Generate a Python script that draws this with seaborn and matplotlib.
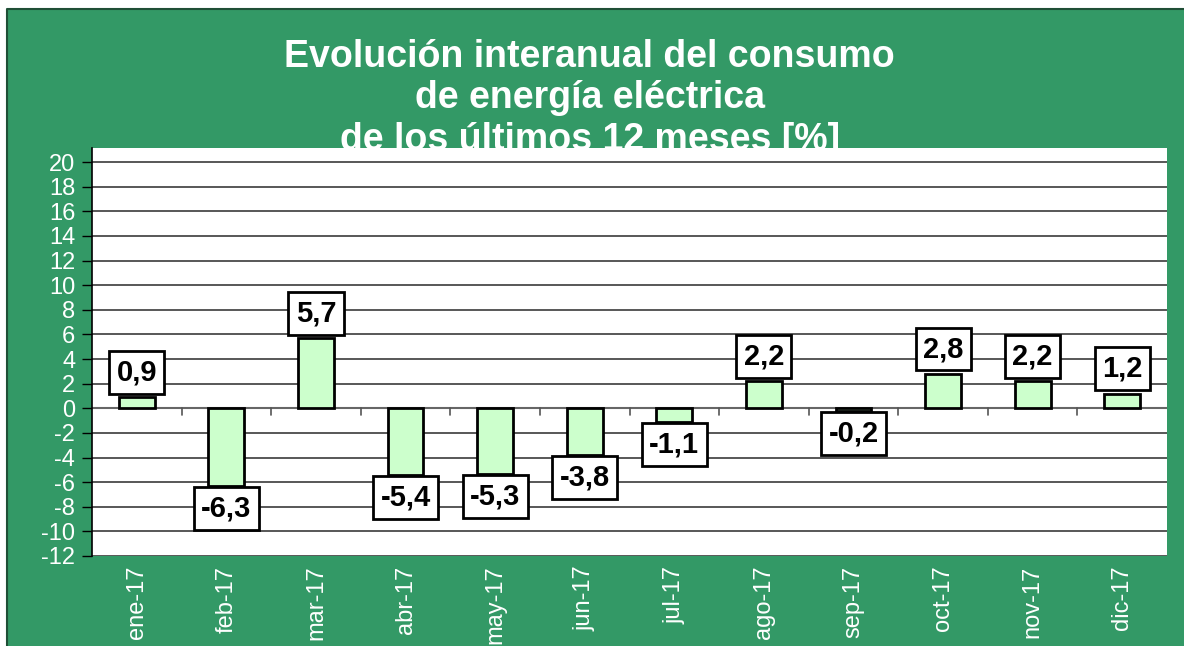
import matplotlib
matplotlib.use("Agg")
import matplotlib.pyplot as plt
import matplotlib.patches as mpatches
import matplotlib.lines as mlines
import seaborn as sns
import pandas as pd
import numpy as np

# datos
meses = ["ene-17", "feb-17", "mar-17", "abr-17", "may-17", "jun-17",
         "jul-17", "ago-17", "sep-17", "oct-17", "nov-17", "dic-17"]
variacion = [0.9, -6.3, 5.7, -5.4, -5.3, -3.8, -1.1, 2.2, -0.2, 2.8, 2.2, 1.2]
yticks = list(range(-12, 21, 2))
titulo = "Evolución interanual del consumo\nde energía eléctrica\nde los últimos 12 meses [%]"

verde = "#339966"

sns.set_style("white")
plt.rcParams["font.family"] = ["Liberation Sans", "DejaVu Sans"]

df = pd.DataFrame({"mes": meses, "var": variacion})

fig = plt.figure(figsize=(11.84, 6.46), dpi=100, facecolor="white")
# fondo verde del grafico (sale por la derecha y por abajo)
x0 = 7 / 1184
y1 = (646 - 9) / 646
fondo = mpatches.Rectangle((x0, -0.1), 1.2, 0.1 + y1, transform=fig.transFigure,
                           facecolor=verde, edgecolor="none", zorder=-3)
fig.patches.append(fondo)
fig.lines.append(mlines.Line2D([x0, x0, 1.0], [0, y1, y1], transform=fig.transFigure,
                               color="#1f4f36", linewidth=1.5, zorder=-2))

fig.text(0.498, 0.940, titulo, color="white", fontsize=27, fontweight="bold",
         ha="center", va="top", linespacing=1.2, zorder=-1)

ax = fig.add_axes([92 / 1184, 90 / 646, (1167 - 92) / 1184, (556 - 148) / 646])
ax.set_facecolor("white")
ax.set_zorder(1)

sns.barplot(data=df, x="mes", y="var", color="#CCFFCC", saturation=1,
            edgecolor="black", linewidth=2, width=0.4, ax=ax, zorder=3)

ax.set_ylim(-12, 21.15)
ax.set_xlim(-0.5, len(meses) - 0.5)
ax.set_yticks(yticks)
ax.set_yticklabels([str(t) for t in yticks], color="white", fontsize=17)
ax.set_xticks(range(len(meses)))
ax.set_xticklabels(meses, rotation=90, color="white", fontsize=17)
ax.tick_params(axis="x", length=0, pad=7)
ax.tick_params(axis="y", length=7, width=1, color="black", direction="out", pad=5, left=True)
ax.set_xlabel("")
ax.set_ylabel("")

for t in yticks:
    ax.axhline(t, color="#2a2a2a", linewidth=1.1, zorder=1)
ax.axhline(0, color="#666666", linewidth=1.5, zorder=2)

# marcas de categoria sobre el eje en cero
for b in np.arange(0.5, len(meses) - 0.5, 1):
    ax.plot([b, b], [0, -0.55], color="#555555", linewidth=1.2, zorder=2)

for s in ["top", "right", "bottom"]:
    ax.spines[s].set_visible(False)
ax.spines["left"].set_color("black")
ax.spines["left"].set_linewidth(1.2)

fs = 21
pad = 0.25
for i, v in enumerate(variacion):
    txt = f"{v:.1f}".replace(".", ",")
    if v >= 0:
        off, va = pad * fs + 2.5, "bottom"
    else:
        off, va = -pad * fs - 1, "top"
    ax.annotate(txt, (i, v), xytext=(0, off), textcoords="offset points",
                ha="center", va=va, fontsize=fs, fontweight="bold", color="black",
                zorder=5,
                bbox=dict(boxstyle=f"square,pad={pad}", facecolor="white",
                          edgecolor="black", linewidth=2))

fig.savefig("out.png", dpi=100, facecolor=fig.get_facecolor())
